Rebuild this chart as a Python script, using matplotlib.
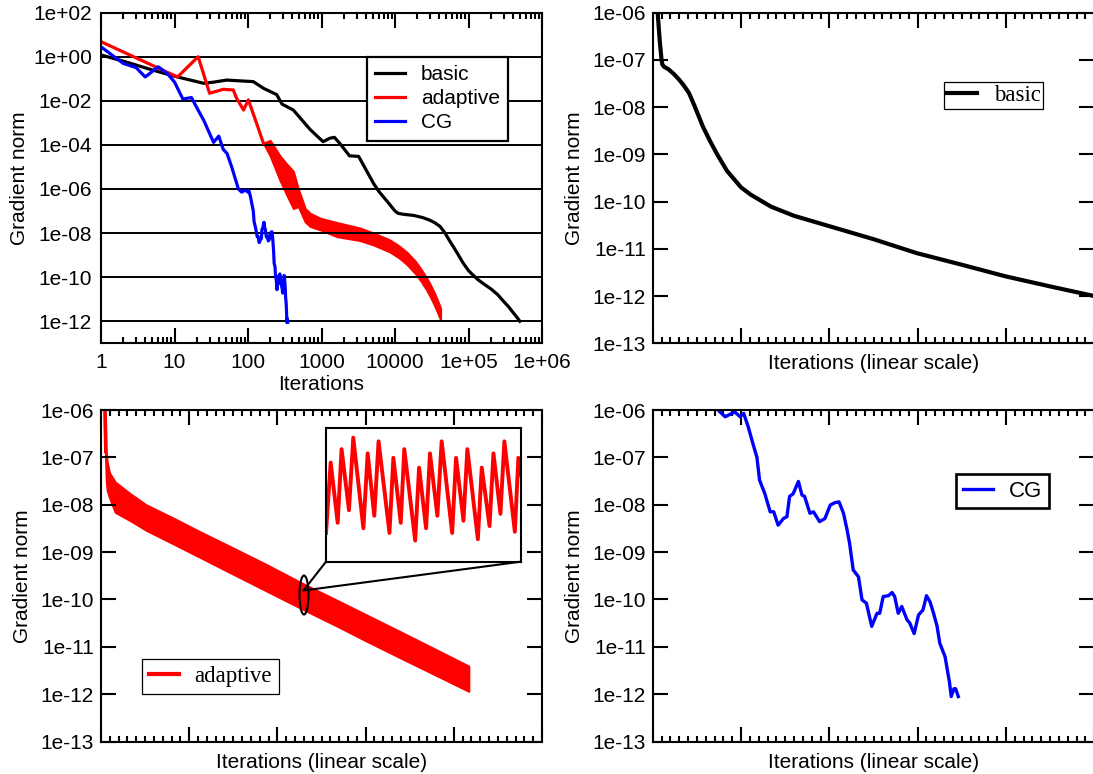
import matplotlib
matplotlib.use("Agg")
import matplotlib.pyplot as plt
from matplotlib.patches import Ellipse, ConnectionPatch
from matplotlib.ticker import FixedLocator, FixedFormatter, MultipleLocator, LogLocator, NullLocator, NullFormatter

plt.rcParams['font.family'] = ['Liberation Sans', 'DejaVu Sans']
plt.rcParams['font.size'] = 15

# --- convergence histories -------------------------------------------------
basic_iter = [1, 2, 5, 10, 25, 35, 51, 118, 162, 246, 290, 414, 700, 1050, 1300,
              1500, 1800, 2400, 3200, 5100, 6000, 8000, 10000, 11000, 13000, 18000,
              24000, 30000, 35000, 41000, 47000, 57000, 65000, 73000, 84000, 100000,
              111000, 134000, 160000, 203000, 250000, 299000, 350000, 400000, 450000,
              500000]
basic_norm = [1.2, 0.63, 0.25, 0.13, 0.062, 0.071, 0.087, 0.074, 0.037, 0.019,
              7.1e-3, 3.8e-3, 5.0e-4, 1.4e-4, 2.0e-4, 2.2e-4, 1.1e-4, 3.2e-5, 3.0e-5,
              1.8e-6, 7.9e-7, 2.5e-7, 1.0e-7, 7.9e-8, 7.1e-8, 6.3e-8, 5.0e-8, 3.8e-8,
              2.9e-8, 2.0e-8, 1.1e-8, 3.8e-9, 1.9e-9, 1.0e-9, 4.5e-10, 2.0e-10,
              1.4e-10, 7.8e-11, 5.0e-11, 2.9e-11, 1.6e-11, 8.1e-12, 4.6e-12, 2.6e-12,
              1.6e-12, 1.0e-12]

# adaptive: single line for the first iterations, then an oscillating band
adapt_line_iter = [1, 11, 21, 30, 46, 63, 70, 87, 101, 131, 162]
adapt_line_norm = [4.8, 0.12, 1.0, 0.022, 0.033, 0.031, 0.013, 3.8e-3, 0.011,
                   9.5e-4, 1.2e-4]
adapt_band_iter = [162, 200, 272, 340, 414, 484, 600, 700, 965, 1620, 3330, 5100,
                   8500, 11200, 14500, 18800, 22600, 27000, 30000, 33900, 38000, 41700]
adapt_band_hi = [1.2e-4, 1.6e-4, 3.2e-5, 1.3e-5, 6.3e-6, 1.0e-6, 1.3e-7, 7.9e-8,
                 4.7e-8, 3.0e-8, 1.7e-8, 1.0e-8, 4.9e-9, 2.7e-9, 1.35e-9, 5.4e-10,
                 2.3e-10, 9.1e-11, 4.8e-11, 2.1e-11, 8.7e-12, 3.9e-12]
adapt_band_lo = [1.2e-4, 3.2e-5, 2.5e-6, 5.0e-7, 1.3e-7, 1.6e-7, 3.2e-8, 2.0e-8,
                 1.4e-8, 6.9e-9, 4.6e-9, 2.9e-9, 1.4e-9, 7.8e-10, 3.8e-10, 1.5e-10,
                 6.6e-11, 2.6e-11, 1.35e-11, 5.9e-12, 2.5e-12, 1.15e-12]

# zoomed-in stretch of the adaptive oscillation (iteration offset, norm)
zoom_iter = [0.0, 1.2, 3.0, 4.0, 5.9, 7.0, 9.6, 10.7, 12.4, 13.5, 16.3, 17.3, 19.2,
             20.1, 22.9, 23.9, 25.7, 26.7, 28.6, 29.7, 32.4, 33.4, 35.3, 36.3, 39.0,
             40.0, 42.0, 43.0, 44.8, 45.8, 48.5, 49.4, 50.6]
zoom_norm = [6.5e-11, 1.6e-10, 7.4e-11, 1.9e-10, 8.7e-11, 2.2e-10, 6.9e-11, 1.8e-10,
             8.1e-11, 2.1e-10, 6.5e-11, 1.7e-10, 7.4e-11, 1.9e-10, 5.9e-11, 1.5e-10,
             6.9e-11, 1.8e-10, 8.1e-11, 2.1e-10, 6.5e-11, 1.7e-10, 7.6e-11, 1.9e-10,
             6.0e-11, 1.5e-10, 7.1e-11, 1.8e-10, 8.3e-11, 2.1e-10, 6.6e-11, 1.7e-10,
             1.2e-10]

cg_iter = [1, 2, 3, 4, 6, 8, 10, 13, 17, 22, 25, 34, 40, 46, 52, 60, 74, 82, 93, 99,
           103, 108, 114, 118, 121, 127, 133, 137, 142, 148, 152, 155, 159, 165, 169,
           172, 178, 182, 189, 195, 201, 206, 211, 216, 220, 223, 227, 233, 237, 242,
           248, 254, 257, 261, 267, 271, 274, 278, 282, 288, 291, 296, 301, 306, 310,
           314, 318, 322, 325, 331, 336, 338, 341, 343, 346]
cg_norm = [2.8, 0.5, 0.32, 0.12, 0.35, 0.17, 0.071, 0.012, 0.014, 2.8e-3, 1.3e-3,
           1.3e-4, 2.5e-4, 6.3e-5, 4.0e-5, 1.0e-5, 1.0e-6, 7.2e-7, 9.1e-7, 7.2e-7,
           8.5e-7, 4.5e-7, 1.8e-7, 1.0e-7, 3.3e-8, 1.7e-8, 7.1e-9, 7.1e-9, 3.7e-9,
           5.1e-9, 5.6e-9, 1.5e-8, 1.7e-8, 3.1e-8, 1.6e-8, 1.5e-8, 6.6e-9, 7.1e-9,
           4.4e-9, 5.1e-9, 9.8e-9, 1.1e-8, 1.15e-8, 6.6e-9, 3.0e-9, 1.5e-9, 4.2e-10,
           3.0e-10, 9.8e-11, 8.3e-11, 2.7e-11, 5.1e-11, 5.1e-11, 1.15e-10, 1.2e-10,
           1.4e-10, 1.15e-10, 5.1e-11, 7.1e-11, 3.7e-11, 3.2e-11, 1.9e-11, 4.7e-11,
           6.0e-11, 1.2e-10, 8.9e-11, 5.1e-11, 2.7e-11, 1.2e-11, 6.2e-12, 1.8e-12,
           8.9e-13, 1.3e-12, 1.3e-12, 8.9e-13]

# --- tick labels -----------------------------------------------------------
log_xticks = [1, 10, 100, 1000, 10000, 1e5, 1e6]
log_xlabels = ["1", "10", "100", "1000", "10000", "1e+05", "1e+06"]
log_yticks = [1e-12, 1e-10, 1e-8, 1e-6, 1e-4, 1e-2, 1, 1e2]
log_ylabels = ["1e-12", "1e-10", "1e-08", "1e-06", "1e-04", "1e-02", "1e+00", "1e+02"]
lin_yticks = [1e-13, 1e-12, 1e-11, 1e-10, 1e-9, 1e-8, 1e-7, 1e-6]
lin_ylabels = ["1e-13", "1e-12", "1e-11", "1e-10", "1e-09", "1e-08", "1e-07", "1e-06"]

W, H = 1093, 774
fig = plt.figure(figsize=(W / 100, H / 100), dpi=100)


def px_axes(x0, y0, x1, y1):
    return fig.add_axes([x0 / W, 1 - y1 / H, (x1 - x0) / W, (y1 - y0) / H])


def style_frame(ax, lw=1.5):
    for s in ax.spines.values():
        s.set_linewidth(lw)


def px_legend(ax, handles, labels, x0, y0, family, size, frame_lw, **kw):
    leg = ax.legend(handles, labels, loc="upper left",
                    bbox_to_anchor=(x0 / W, 1 - y0 / H), bbox_transform=fig.transFigure,
                    borderaxespad=0, fancybox=False, framealpha=1,
                    prop={"family": family, "size": size}, **kw)
    leg.get_frame().set_edgecolor("black")
    leg.get_frame().set_linewidth(frame_lw)
    return leg


def linear_panel(ax, xmax, major):
    ax.set_yscale("log")
    ax.set_xlim(0, xmax)
    ax.set_ylim(1e-13, 1e-6)
    ax.xaxis.set_major_locator(MultipleLocator(major))
    ax.xaxis.set_minor_locator(MultipleLocator(major / 10))
    ax.xaxis.set_major_formatter(NullFormatter())
    ax.yaxis.set_major_locator(FixedLocator(lin_yticks))
    ax.yaxis.set_major_formatter(FixedFormatter(lin_ylabels))
    ax.yaxis.set_minor_locator(NullLocator())
    ax.tick_params(which="both", direction="in", top=True, right=True, width=1.5)
    ax.tick_params(which="major", length=10.5)
    ax.tick_params(which="minor", length=4.5)
    ax.tick_params(axis="y", pad=5)
    ax.set_xlabel("Iterations (linear scale)", labelpad=4.5)
    ax.set_ylabel("Gradient norm", labelpad=6)
    style_frame(ax)


# --- all three methods on log-log axes ------------------------------------
ax = px_axes(101, 12.6, 542, 343.3)
ax.set_xscale("log")
ax.set_yscale("log")
ax.set_xlim(1, 1e6)
ax.set_ylim(1e-13, 1e2)
l_basic, = ax.plot(basic_iter, basic_norm, color="black", lw=2.3)
l_adapt, = ax.plot(adapt_line_iter, adapt_line_norm, color="red", lw=2.3)
ax.fill_between(adapt_band_iter, adapt_band_lo, adapt_band_hi, color="red", lw=1.5)
l_cg, = ax.plot(cg_iter, cg_norm, color="blue", lw=2.3)
ax.xaxis.set_major_locator(FixedLocator(log_xticks))
ax.xaxis.set_major_formatter(FixedFormatter(log_xlabels))
ax.xaxis.set_minor_locator(LogLocator(base=10, subs=range(2, 10), numticks=20))
ax.xaxis.set_minor_formatter(NullFormatter())
ax.yaxis.set_major_locator(FixedLocator(log_yticks))
ax.yaxis.set_major_formatter(FixedFormatter(log_ylabels))
ax.yaxis.set_minor_locator(NullLocator())
ax.grid(axis="y", color="black", lw=1.4)
ax.tick_params(which="both", direction="in", top=True, right=True, width=1.5)
ax.tick_params(axis="x", which="major", length=10.5, pad=7)
ax.tick_params(axis="x", which="minor", length=4.5)
ax.tick_params(axis="y", length=0, pad=6.5)
ax.set_xlabel("Iterations", labelpad=2)
ax.set_ylabel("Gradient norm", labelpad=3)
style_frame(ax)
px_legend(ax, [l_basic, l_adapt, l_cg], ["basic", "adaptive", "CG"], 366.7, 56.7,
          "Liberation Sans", 15, 1.6, handlelength=1.45, handletextpad=0.75,
          borderpad=0.4, labelspacing=0.25)

# --- basic, linear iteration axis -----------------------------------------
ax_b = px_axes(652.7, 12.6, 1094.3, 343.3)
lb, = ax_b.plot(basic_iter, basic_norm, color="black", lw=3)
linear_panel(ax_b, 5e5, 1e5)
px_legend(ax_b, [lb], ["basic"], 944, 82, "Liberation Serif", 16.5, 0.9,
          handlelength=1.3, handletextpad=0.75, borderpad=0.12)

# --- adaptive, linear iteration axis --------------------------------------
ax_a = px_axes(101, 410, 542, 741.5)
la, = ax_a.plot(adapt_line_iter, adapt_line_norm, color="red", lw=3)
ax_a.fill_between(adapt_band_iter, adapt_band_lo, adapt_band_hi, color="red", lw=1.5)
linear_panel(ax_a, 5e4, 1e4)
px_legend(ax_a, [la], ["adaptive"], 142, 659, "Liberation Serif", 16.5, 0.9,
          handlelength=1.3, handletextpad=0.7, borderpad=0.3)

ax_a.add_patch(Ellipse((0.4603, 0.4419), 0.0204, 0.1176, transform=ax_a.transAxes,
                       facecolor="none", edgecolor="black", lw=1.5, zorder=5))

ax_in = px_axes(326, 427.7, 520.7, 561.7)
ax_in.plot(zoom_iter, zoom_norm, color="red", lw=2.8)
ax_in.set_yscale("log")
ax_in.set_xlim(0, 50)
ax_in.set_ylim(4.5e-11, 2.5e-10)
ax_in.set_xticks([])
ax_in.set_yticks([])
ax_in.yaxis.set_minor_locator(NullLocator())
style_frame(ax_in)
for corner in [(0, 0), (1, 0)]:
    fig.add_artist(ConnectionPatch(xyA=(0.4592, 0.4555), coordsA=ax_a.transAxes,
                                   xyB=corner, coordsB=ax_in.transAxes,
                                   color="black", lw=1.5))

# --- CG, linear iteration axis --------------------------------------------
ax_c = px_axes(652.7, 410, 1094.3, 741.5)
lc, = ax_c.plot(cg_iter, cg_norm, color="blue", lw=2.4)
linear_panel(ax_c, 500, 100)
px_legend(ax_c, [lc], ["CG"], 956, 474, "Liberation Sans", 16, 1.9,
          handlelength=1.35, handletextpad=0.75, borderpad=0.3)

fig.savefig("out.png", dpi=100)
